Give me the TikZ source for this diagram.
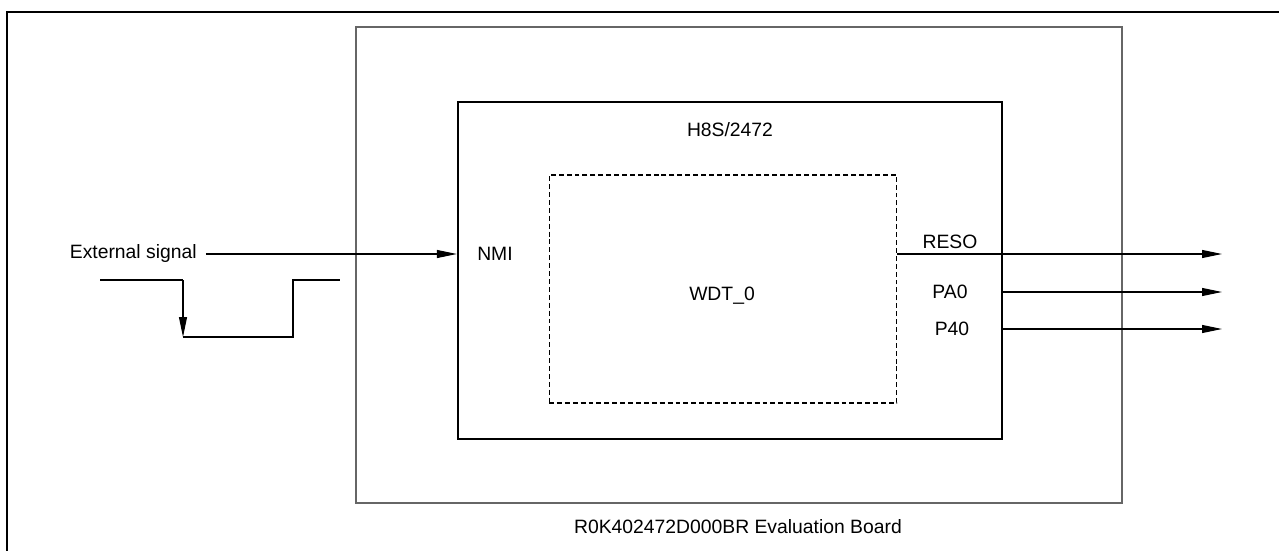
\documentclass[tikz,border=0pt]{standalone}
\usepackage{fontspec}
\setmainfont{Liberation Sans}
\usepackage{tikz}
\usetikzlibrary{arrows.meta, positioning, calc}

\begin{document}
\begin{tikzpicture}[x=0.02cm, y=-0.02cm,
    font=\fontsize{11}{13}\selectfont,
    sig/.style={line width=0.6pt, -{Triangle[length=0.4cm,width=0.16cm]}},
    lbl/.style={inner sep=0pt},
    boardbox/.style={draw=black!60, line width=0.9pt, inner sep=0pt,
      minimum width=15.32cm, minimum height=9.52cm},
    chipbox/.style={draw, line width=1.4pt, inner sep=0pt,
      minimum width=10.88cm, minimum height=6.74cm},
    wdtbox/.style={draw, dashed, line width=0.6pt, dash pattern=on 2.8pt off 1.7pt,
      inner sep=0pt, minimum width=6.96cm, minimum height=4.56cm}]
  \useasboundingbox (0,0) rectangle (1279,551);
  \draw[line width=1.6pt] (7,560) -- (7,12) -- (1290,12);

  \node[boardbox] (board) at (739,265) {};
  \node[chipbox] (chip) at (730,270.5) {};
  \node[wdtbox] (wdt) at (723,289) {};
  \node[lbl] (boardname) at (738,527) {R0K402472D000BR Evaluation Board};
  \node[lbl] (chipname) at (730,130) {H8S/2472};
  \node[lbl] (wdtname) at (722,296) {WDT\_0};

  % pins
  \node[lbl] (nmi) at (495,254) {NMI};
  \node[lbl] (reso) at (950,242) {RESO};
  \node[lbl] (pa0) at (950,292) {PA0};
  \node[lbl] (p40) at (952,329) {P40};
  \node[lbl, anchor=east] (ext) at (197,254) {External signal};

  \coordinate (resoout) at (1222,254);
  \coordinate (pa0out) at (1222,292);
  \coordinate (p40out) at (1222,329);

  \draw[sig] ([xshift=5pt]ext.east) -- (ext.east -| chip.west);
  \draw[sig] (wdt.east |- resoout) -- (resoout);
  \draw[sig] (chip.east |- pa0out) -- (pa0out);
  \draw[sig] (chip.east |- p40out) -- (p40out);

  % falling edge pulse
  \draw[line width=0.6pt] (100,280) -- (183,280);
  \draw[sig] (183,280) -- (183,337);
  \draw[line width=0.6pt] (183,337) -- (293,337) -- (293,280) -- (340,280);
\end{tikzpicture}
\end{document}
